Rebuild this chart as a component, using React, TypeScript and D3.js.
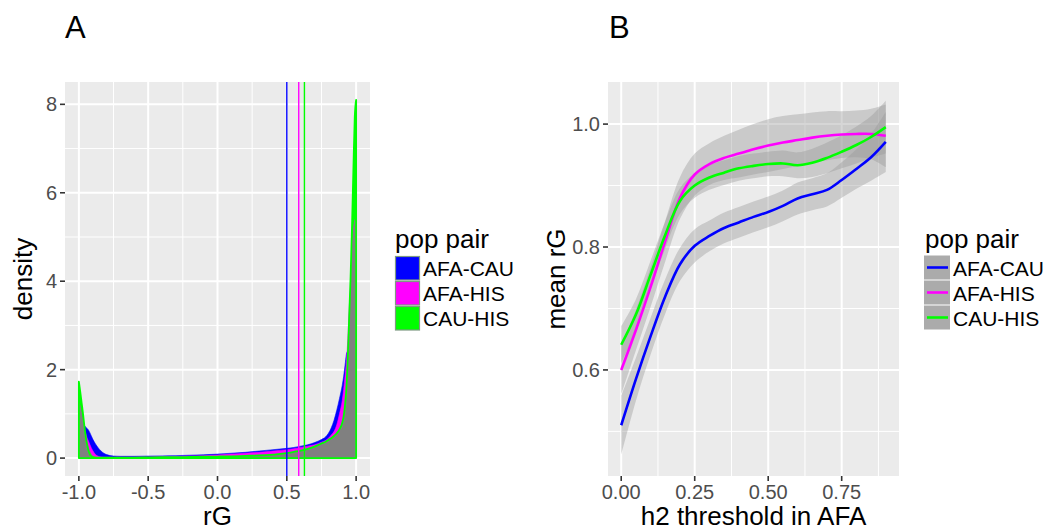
import React from "react";
import * as d3 from "d3";

// ---------- Panel A data (density of rG) ----------
const densX = [-1.0, -0.99, -0.98, -0.97, -0.96, -0.95, -0.94, -0.93, -0.92, -0.91, -0.9, -0.88, -0.86, -0.84, -0.82, -0.8, -0.75, -0.7, -0.6, -0.5, -0.4, -0.3, -0.2, -0.1, 0.0, 0.1, 0.2, 0.3, 0.4, 0.5, 0.55, 0.6, 0.65, 0.7, 0.75, 0.78, 0.8, 0.82, 0.84, 0.86, 0.88, 0.9, 0.91, 0.92, 0.93, 0.94, 0.95, 0.96, 0.97, 0.98, 0.99, 1.0];
const densAfaCau = [1.0, 0.95, 0.88, 0.8, 0.74, 0.7, 0.67, 0.63, 0.57, 0.5, 0.43, 0.32, 0.23, 0.16, 0.11, 0.08, 0.045, 0.04, 0.04, 0.045, 0.05, 0.055, 0.065, 0.075, 0.09, 0.11, 0.13, 0.16, 0.19, 0.22, 0.24, 0.27, 0.3, 0.35, 0.42, 0.48, 0.56, 0.68, 0.85, 1.08, 1.35, 1.65, 1.85, 2.1, 2.35, 2.45, 2.9, 3.3, 4.0, 4.8, 5.2, 5.2];
const densAfaHis = [1.2, 1.1, 0.95, 0.8, 0.65, 0.55, 0.45, 0.38, 0.3, 0.23, 0.17, 0.08, 0.04, 0.025, 0.02, 0.02, 0.02, 0.02, 0.02, 0.025, 0.03, 0.035, 0.045, 0.055, 0.07, 0.09, 0.11, 0.13, 0.16, 0.19, 0.21, 0.24, 0.27, 0.3, 0.36, 0.4, 0.45, 0.52, 0.6, 0.75, 1.0, 1.3, 1.55, 1.85, 2.2, 2.7, 3.4, 3.9, 4.6, 5.1, 5.3, 5.3];
const densCauHis = [1.73, 1.5, 1.25, 1.0, 0.72, 0.48, 0.3, 0.16, 0.08, 0.04, 0.02, 0.01, 0.01, 0.01, 0.01, 0.01, 0.01, 0.01, 0.01, 0.015, 0.02, 0.02, 0.025, 0.03, 0.035, 0.04, 0.05, 0.06, 0.08, 0.11, 0.14, 0.17, 0.21, 0.26, 0.33, 0.37, 0.41, 0.45, 0.5, 0.56, 0.65, 0.8, 0.95, 1.2, 1.6, 2.3, 3.2, 4.1, 5.2, 6.5, 7.7, 8.1];
const densOverlap = [1.28, 1.2, 1.05, 0.88, 0.68, 0.5, 0.36, 0.25, 0.16, 0.1, 0.06, 0.03, 0.02, 0.02, 0.02, 0.02, 0.02, 0.02, 0.02, 0.02, 0.02, 0.02, 0.025, 0.03, 0.035, 0.04, 0.05, 0.06, 0.08, 0.11, 0.14, 0.17, 0.21, 0.26, 0.33, 0.37, 0.41, 0.45, 0.5, 0.56, 0.65, 0.8, 0.95, 1.2, 1.6, 2.3, 3.2, 4.0, 4.7, 5.2, 5.4, 5.35];
const meanRG = [0.5, 0.586, 0.627]; // vertical lines AFA-CAU, AFA-HIS, CAU-HIS

const axAxTicks = [-1.0, -0.5, 0.0, 0.5, 1.0];
const axAxLabels = ["-1.0", "-0.5", "0.0", "0.5", "1.0"];
const axAxMinor = [-0.75, -0.25, 0.25, 0.75];
const ayAxTicks = [0, 2, 4, 6, 8];
const ayAxMinor = [1, 3, 5, 7];

// ---------- Panel B data (mean rG vs h2 threshold) ----------
const h2X = [0, 0.05, 0.1, 0.15, 0.2, 0.25, 0.3, 0.35, 0.4, 0.45, 0.5, 0.55, 0.6, 0.65, 0.7, 0.75, 0.8, 0.85, 0.9];
const meanAfaCau = [0.51, 0.585, 0.655, 0.72, 0.772, 0.802, 0.818, 0.831, 0.84, 0.849, 0.857, 0.867, 0.879, 0.886, 0.893, 0.909, 0.927, 0.946, 0.971];
const loAfaCau = [0.462, 0.55, 0.625, 0.692, 0.745, 0.775, 0.793, 0.806, 0.815, 0.824, 0.832, 0.842, 0.853, 0.86, 0.866, 0.88, 0.895, 0.908, 0.922];
const hiAfaCau = [0.558, 0.62, 0.685, 0.748, 0.799, 0.829, 0.843, 0.856, 0.865, 0.874, 0.882, 0.892, 0.905, 0.912, 0.92, 0.938, 0.959, 0.984, 1.02];
const meanAfaHis = [0.6, 0.665, 0.735, 0.81, 0.88, 0.918, 0.935, 0.945, 0.952, 0.959, 0.965, 0.97, 0.974, 0.978, 0.981, 0.983, 0.984, 0.984, 0.981];
const loAfaHis = [0.56, 0.632, 0.703, 0.777, 0.846, 0.884, 0.901, 0.909, 0.913, 0.918, 0.922, 0.927, 0.932, 0.937, 0.941, 0.945, 0.946, 0.943, 0.93];
const hiAfaHis = [0.64, 0.698, 0.767, 0.843, 0.914, 0.952, 0.969, 0.981, 0.991, 1.0, 1.008, 1.013, 1.016, 1.019, 1.021, 1.021, 1.022, 1.025, 1.032];
const meanCauHis = [0.641, 0.69, 0.755, 0.82, 0.875, 0.9, 0.913, 0.921, 0.928, 0.932, 0.935, 0.936, 0.933, 0.937, 0.945, 0.955, 0.966, 0.979, 0.995];
const loCauHis = [0.611, 0.665, 0.732, 0.798, 0.854, 0.88, 0.893, 0.901, 0.908, 0.912, 0.915, 0.915, 0.912, 0.914, 0.92, 0.928, 0.936, 0.945, 0.952];
const hiCauHis = [0.671, 0.715, 0.778, 0.842, 0.896, 0.92, 0.933, 0.941, 0.948, 0.952, 0.955, 0.957, 0.954, 0.96, 0.97, 0.982, 0.996, 1.013, 1.038];

const bxTicks = [0, 0.25, 0.5, 0.75];
const bxLabels = ["0.00", "0.25", "0.50", "0.75"];
const bxMinor = [0.125, 0.375, 0.625, 0.875];
const byTicks = [0.6, 0.8, 1.0];
const byLabels = ["0.6", "0.8", "1.0"];
const byMinor = [0.5, 0.7, 0.9];

const pairs = ["AFA-CAU", "AFA-HIS", "CAU-HIS"];
const pairColors = ["#0000FF", "#FF00FF", "#00FF00"];

const FONT = "'Liberation Sans', Arial, Helvetica, sans-serif";
const BG = "#EBEBEB";
const TICK_COL = "#4D4D4D";

export default function App() {
  // Panel A geometry
  const aL = 65, aR = 370, aT = 82, aB = 476;
  const xA = d3.scaleLinear().domain([-1.1, 1.1]).range([aL, aR]);
  const yA = d3.scaleLinear().domain([-0.405, 8.505]).range([aB, aT]);

  // Panel B geometry
  const bL = 608, bR = 899, bT = 82, bB = 476;
  const xB = d3.scaleLinear().domain([-0.045, 0.945]).range([bL, bR]);
  const yB = d3.scaleLinear().domain([0.4274, 1.0685]).range([bB, bT]);

  const densArea = (vals: number[]) =>
    d3
      .area<number>()
      .x((_, i) => xA(densX[i]))
      .y0(() => yA(0))
      .y1((d) => yA(d))
      .curve(d3.curveMonotoneX)(vals) as string;

  const ribbon = (lo: number[], hi: number[]) =>
    d3
      .area<number>()
      .x((_, i) => xB(h2X[i]))
      .y0((_, i) => yB(lo[i]))
      .y1((_, i) => yB(hi[i]))
      .curve(d3.curveCatmullRom)(h2X) as string;

  const smoothLine = (vals: number[]) =>
    d3
      .line<number>()
      .x((_, i) => xB(h2X[i]))
      .y((d) => yB(d))
      .curve(d3.curveCatmullRom)(vals) as string;

  const bMeans = [meanAfaCau, meanAfaHis, meanCauHis];
  const bLos = [loAfaCau, loAfaHis, loCauHis];
  const bHis = [hiAfaCau, hiAfaHis, hiCauHis];

  return (
    <svg
      width={1050}
      height={531}
      style={{ position: "absolute", left: 0, top: 0, background: "#FFFFFF" }}
      fontFamily={FONT}
    >
      <rect x={0} y={0} width={1050} height={531} fill="#FFFFFF" />

      {/* ===== Panel A ===== */}
      <text x={65} y={38} fontSize={31} fill="#000">A</text>
      <rect x={aL} y={aT} width={aR - aL} height={aB - aT} fill={BG} />
      {axAxMinor.map((v) => (
        <line key={"axm" + v} x1={xA(v)} x2={xA(v)} y1={aT} y2={aB} stroke="#FFF" strokeWidth={1} />
      ))}
      {ayAxMinor.map((v) => (
        <line key={"aym" + v} x1={aL} x2={aR} y1={yA(v)} y2={yA(v)} stroke="#FFF" strokeWidth={1} />
      ))}
      {axAxTicks.map((v) => (
        <line key={"axM" + v} x1={xA(v)} x2={xA(v)} y1={aT} y2={aB} stroke="#FFF" strokeWidth={2} />
      ))}
      {ayAxTicks.map((v) => (
        <line key={"ayM" + v} x1={aL} x2={aR} y1={yA(v)} y2={yA(v)} stroke="#FFF" strokeWidth={2} />
      ))}

      <path d={densArea(densCauHis)} fill="#00FF00" />
      <path d={densArea(densAfaCau)} fill="#0000FF" stroke="#0000FF" strokeWidth={0.6} />
      <path d={densArea(densAfaHis)} fill="#FF00FF" stroke="#FF00FF" strokeWidth={0.6} />
      <path d={densArea(densOverlap)} fill="#808080" />
      <path d={densArea(densCauHis)} fill="none" stroke="#00FF00" strokeWidth={1.8} strokeLinejoin="round" />

      {meanRG.map((v, i) => (
        <line key={"vl" + i} x1={xA(v)} x2={xA(v)} y1={aT} y2={aB} stroke={pairColors[i]} strokeWidth={1.4} />
      ))}

      {/* axes A */}
      {axAxTicks.map((v, i) => (
        <g key={"axt" + v}>
          <line x1={xA(v)} x2={xA(v)} y1={aB} y2={aB + 5} stroke="#333" strokeWidth={1.6} />
          <text x={xA(v)} y={499} fontSize={20} fill={TICK_COL} textAnchor="middle">{axAxLabels[i]}</text>
        </g>
      ))}
      {ayAxTicks.map((v) => (
        <g key={"ayt" + v}>
          <line x1={aL - 5} x2={aL} y1={yA(v)} y2={yA(v)} stroke="#333" strokeWidth={1.6} />
          <text x={aL - 8} y={yA(v) + 7} fontSize={20} fill={TICK_COL} textAnchor="end">{v}</text>
        </g>
      ))}
      <text x={(aL + aR) / 2} y={525} fontSize={26} fill="#000" textAnchor="middle">rG</text>
      <text transform={`translate(32, ${(aT + aB) / 2}) rotate(-90)`} fontSize={26} fill="#000" textAnchor="middle">density</text>

      {/* legend A */}
      <text x={395} y={248} fontSize={26} fill="#000">pop pair</text>
      {pairs.map((p, i) => (
        <g key={"la" + p}>
          <rect x={395.5} y={256.5 + i * 25} width={24} height={23.5} fill={pairColors[i]} stroke="#7E9A82" strokeWidth={1.2} />
          <text x={423} y={276 + i * 25} fontSize={21} fill="#000">{p}</text>
        </g>
      ))}

      {/* ===== Panel B ===== */}
      <text x={609} y={38} fontSize={31} fill="#000">B</text>
      <rect x={bL} y={bT} width={bR - bL} height={bB - bT} fill={BG} />
      {bxMinor.map((v) => (
        <line key={"bxm" + v} x1={xB(v)} x2={xB(v)} y1={bT} y2={bB} stroke="#FFF" strokeWidth={1} />
      ))}
      {byMinor.map((v) => (
        <line key={"bym" + v} x1={bL} x2={bR} y1={yB(v)} y2={yB(v)} stroke="#FFF" strokeWidth={1} />
      ))}
      {bxTicks.map((v) => (
        <line key={"bxM" + v} x1={xB(v)} x2={xB(v)} y1={bT} y2={bB} stroke="#FFF" strokeWidth={2} />
      ))}
      {byTicks.map((v) => (
        <line key={"byM" + v} x1={bL} x2={bR} y1={yB(v)} y2={yB(v)} stroke="#FFF" strokeWidth={2} />
      ))}

      {pairs.map((p, i) => (
        <path key={"rb" + p} d={ribbon(bLos[i], bHis[i])} fill="#999999" fillOpacity={0.4} />
      ))}
      {pairs.map((p, i) => (
        <path key={"ln" + p} d={smoothLine(bMeans[i])} fill="none" stroke={pairColors[i]} strokeWidth={2.6} />
      ))}

      {/* axes B */}
      {bxTicks.map((v, i) => (
        <g key={"bxt" + v}>
          <line x1={xB(v)} x2={xB(v)} y1={bB} y2={bB + 5} stroke="#333" strokeWidth={1.6} />
          <text x={xB(v)} y={499} fontSize={20} fill={TICK_COL} textAnchor="middle">{bxLabels[i]}</text>
        </g>
      ))}
      {byTicks.map((v, i) => (
        <g key={"byt" + v}>
          <line x1={bL - 5} x2={bL} y1={yB(v)} y2={yB(v)} stroke="#333" strokeWidth={1.6} />
          <text x={bL - 8} y={yB(v) + 7} fontSize={20} fill={TICK_COL} textAnchor="end">{byLabels[i]}</text>
        </g>
      ))}
      <text x={(bL + bR) / 2} y={525} fontSize={26} fill="#000" textAnchor="middle">h2 threshold in AFA</text>
      <text transform={`translate(565, ${(bT + bB) / 2}) rotate(-90)`} fontSize={26} fill="#000" textAnchor="middle">mean rG</text>

      {/* legend B */}
      <text x={925} y={248} fontSize={26} fill="#000">pop pair</text>
      {pairs.map((p, i) => (
        <g key={"lb" + p}>
          <rect x={924} y={255.5 + i * 25} width={26} height={24} fill="#ABABAB" />
          <line x1={927} x2={948} y1={267.5 + i * 25} y2={267.5 + i * 25} stroke={pairColors[i]} strokeWidth={2.6} />
          <text x={953} y={276 + i * 25} fontSize={21} fill="#000">{p}</text>
        </g>
      ))}
    </svg>
  );
}
